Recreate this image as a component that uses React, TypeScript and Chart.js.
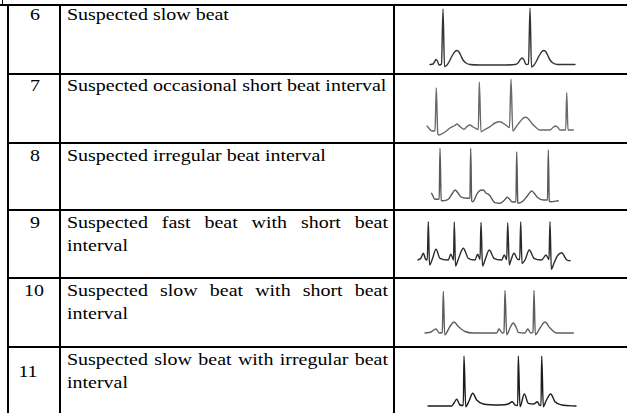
import React, { useEffect, useRef } from "react";
import { Chart, registerables } from "chart.js";

Chart.register(...registerables);

// ---- table content ----
const rowNumbers = ["6", "7", "8", "9", "10", "11"];
const rowLabels = [
  "Suspected slow beat",
  "Suspected occasional short beat interval",
  "Suspected irregular beat interval",
  "Suspected fast beat with short beat interval",
  "Suspected slow beat with short beat interval",
  "Suspected slow beat with irregular beat interval",
];

// ---- ECG traces: [time, amplitude above baseline] ----
const ecgSlowBeat: [number, number][] = [
  [0, -0.5], [3, 0], [5, 3], [6, 4.5], [7.5, 3], [9, -1], [11.5, 0], [13, 55], [14.5, -2.5],
  [17, -1], [19, 2], [22, 8], [25, 12.5], [27, 13.5], [29, 12], [31, 8], [33, 4], [36, 1],
  [40, -0.5], [50, -1], [70, -1], [85, -0.5], [88, 1], [90, 4], [92, 6], [94, 4], [96, -0.5],
  [98.5, 0], [100, 56], [101.5, -3], [104, -1], [106, 2], [109, 8], [112, 12.5], [114, 13.5],
  [116, 12], [118, 8], [120, 4], [123, 1], [128, -0.5], [145, -0.5],
];
const ecgOccasionalShort: [number, number][] = [
  [0, 4], [5, -1], [8, -0.5], [9.3, 42], [10.8, -4], [12, -5], [18, -2], [23, 2], [28, 4.5],
  [30, 6], [33, 3.5], [37, 0.7], [40, 3.5], [43, 5], [46, 3], [49, 1.5], [51.3, 0.5], [52.3, 48],
  [54, -1.7], [57, 0], [63, 3.3], [68, 7], [73, 8.3], [78, 5.5], [82.5, 2.5], [84, 50.7],
  [85.8, -1], [89, 3], [93, 8.3], [98, 12.7], [101, 11.5], [104.7, 6.7], [109, 2.5], [113, 0],
  [123, 0], [126, 2.5], [128.7, 4], [131, 2.5], [133, 0], [138.7, 0], [139.7, 37.3], [141, 0],
  [146.3, 0],
];
const ecgIrregular: [number, number][] = [
  [-0.3, 6.7], [3, 0.7], [7.2, 1], [8, 51.7], [9.2, -0.5], [10.7, -0.7], [16.3, 0.7], [20, 6],
  [23, 10], [26, 7], [28.7, 3.3], [35.3, 1.7], [37.9, 2], [38.7, 51.7], [39.7, -1], [40.7, -1.7],
  [45.3, 6.7], [48.5, 9.8], [51.3, 10], [54, 7], [57.3, 5], [63, -2.7], [68, -3.3], [72, -0.5],
  [75.3, 2.7], [78, 0.5], [79.7, -1.7], [83.9, -2], [84.7, 48.3], [85.8, -2.5], [86.5, -3.3],
  [91.3, -0.7], [96, 5], [99.7, 9], [102, 7], [105.3, 2.7], [111.3, 0], [115.5, 0], [116.3, 50],
  [117.3, -1], [118.7, -1.7], [126.3, -0.7],
];
const ecgFastShort: [number, number][] = [
  [0, 0], [3, 2], [5.3, 6.7], [7.5, 1], [9.3, 0], [10.3, 38.3], [11.5, -5], [14.3, 0.7], [18, 10.7],
  [22, 1.7], [30.3, 0], [32.7, 5.7], [35, 1], [35.5, 0], [36.3, 38], [37.5, -6], [40, 0],
  [45.3, 11.7], [50.3, 1.7], [57, 0], [59.7, 5.7], [62, 0.5], [63, 37.5], [64.5, -6], [67, 0],
  [71.3, 10], [76, 1.7], [83.7, 0], [86.3, 5], [88.7, 0.5], [89.7, 37], [91.3, -5], [93, 0],
  [96, 6.7], [99.7, 0.7], [101.7, 0.5], [102.7, 38], [104, -3.3], [107, 0], [111.3, 10],
  [116, 1.7], [123.7, 0], [128, 5], [131, 0.5], [132, 38.3], [133.3, -9.3], [136, -3], [140, 5],
  [143.7, 7.3], [148.7, 0], [152, -0.7],
];
const ecgSlowShort: [number, number][] = [
  [0, 0], [6, 1], [11, 4], [14.3, 0], [17.3, 0.5], [18.3, 41.5], [19.7, -1.7], [25, 6.5], [29, 11],
  [33.3, 6.5], [40, 1.5], [48.3, 0], [71.7, 0], [74, 4], [77.3, 0], [79, 0.5], [80, 42.5],
  [81.7, -1.7], [85, 5], [88.3, 10], [91, 6], [93.3, 0.7], [100, 0], [102.7, 4], [105.7, 0],
  [108, 0.5], [109, 42.5], [110.3, -1.7], [115, 5], [120, 11], [125, 5], [131.7, 0], [148.3, 0],
];
const ecgSlowIrregular: [number, number][] = [
  [0, 0], [23.7, 0], [26, 3], [28.7, 6.7], [32, 1], [35.3, 0.5], [36, 50], [37.7, -0.7], [41, 5],
  [44.7, 12.7], [48.7, 6], [55.3, 2], [72, 1], [80.3, 2], [84.3, 4.3], [87, 1], [89.7, 0.5],
  [90.3, 50], [92, -0.7], [96.3, 12], [100.3, 2.7], [106, 2], [109.3, 4.3], [111.3, 1], [113, 0.5],
  [113.7, 50], [115.3, -0.7], [118, 5], [122.7, 12], [127, 4.3], [133.7, 1], [148, 0],
];
const ecgTraces = [ecgSlowBeat, ecgOccasionalShort, ecgIrregular, ecgFastShort, ecgSlowShort, ecgSlowIrregular];
const ecgColors = ["#333333", "#6a6a6a", "#595959", "#2a2a2a", "#5e5e5e", "#1c1c1c"];

// ---- layout ----
const W = 627;
const H = 413;
const LINE = 2;
const rowTops = [4, 73, 142, 209, 277, 346];
const colLines = [7, 59, 393];
const traceStartX = [430, 427, 432, 418, 425, 428];
const traceBaseY = [64, 130, 200, 260, 333, 406];
const numCenterX = [34.5, 34.5, 34.5, 34.5, 34, 28];
const numOffsetY = [0, 0, 0, 0, 0, 11.5];
const textOffsetY = [-3, -1, 0, 0, 0, 0];
const FONT = "'Liberation Serif', 'Times New Roman', serif";
const FONT_SIZE = 16.5;
const SCALE_X = 1.21;
const LINE_H = 23;
const TEXT_LEFT = 66.5;
const TEXT_W = 321;

type TraceProps = {
  data: [number, number][];
  color: string;
  left: number;
  top: number;
  width: number;
  height: number;
  xMin: number;
  yMin: number;
  yMax: number;
};

function Trace({ data, color, left, top, width, height, xMin, yMin, yMax }: TraceProps) {
  const ref = useRef<HTMLCanvasElement>(null);
  useEffect(() => {
    const chart = new Chart(ref.current as HTMLCanvasElement, {
      type: "line",
      data: {
        datasets: [
          {
            data: data.map(([x, y]) => ({ x, y })),
            borderColor: color,
            borderWidth: 1.4,
            borderJoinStyle: "round",
            borderCapStyle: "round",
            pointRadius: 0,
            fill: false,
            cubicInterpolationMode: "monotone",
          },
        ],
      },
      options: {
        animation: false,
        responsive: false,
        maintainAspectRatio: false,
        events: [],
        layout: { padding: 0 },
        plugins: { legend: { display: false }, tooltip: { enabled: false } },
        scales: {
          x: { type: "linear", display: false, min: xMin, max: xMin + width },
          y: { type: "linear", display: false, min: yMin, max: yMax },
        },
      },
    });
    return () => chart.destroy();
  }, []);
  return (
    <canvas
      ref={ref}
      width={width}
      height={height}
      style={{ position: "absolute", left, top, width, height }}
    />
  );
}

export default function App() {
  const colRight = colLines[2] + LINE;
  const lines: React.ReactNode[] = [];
  lines.push(<div key="top" style={{ position: "absolute", left: 0, top: rowTops[0], width: W, height: LINE, background: "#000" }} />);
  lines.push(<div key="rem" style={{ position: "absolute", left: 1.5, top: 0, width: 1.2, height: rowTops[0], background: "#000" }} />);
  rowTops.slice(1).forEach((t, i) =>
    lines.push(
      <div key={"r" + i} style={{ position: "absolute", left: colLines[0], top: t, width: W - colLines[0], height: LINE, background: "#000" }} />
    )
  );
  colLines.forEach((x, i) =>
    lines.push(
      <div key={"c" + i} style={{ position: "absolute", left: x, top: rowTops[0], width: LINE, height: H - rowTops[0], background: "#000" }} />
    )
  );

  return (
    <div
      style={{
        position: "fixed",
        left: 0,
        top: 0,
        width: W,
        height: H,
        background: "#fff",
        overflow: "hidden",
        fontFamily: FONT,
        color: "#000",
      }}
    >
      {rowNumbers.map((n, i) => {
        const top = rowTops[i] + LINE;
        const bottom = i + 1 < rowTops.length ? rowTops[i + 1] : H;
        const canvasLeft = colRight;
        const canvasW = W - canvasLeft;
        const canvasH = bottom - top;
        return (
          <React.Fragment key={n}>
            <div
              style={{
                position: "absolute",
                left: numCenterX[i] - 20,
                width: 40,
                top: top + textOffsetY[i] + numOffsetY[i],
                textAlign: "center",
                fontSize: FONT_SIZE,
                lineHeight: LINE_H + "px",
                transform: `scaleX(${SCALE_X})`,
              }}
            >
              {n}
            </div>
            <div
              style={{
                position: "absolute",
                left: TEXT_LEFT,
                top: top + textOffsetY[i],
                width: TEXT_W / SCALE_X,
                textAlign: "justify",
                fontSize: FONT_SIZE,
                lineHeight: LINE_H + "px",
                transform: `scaleX(${SCALE_X})`,
                transformOrigin: "left top",
              }}
            >
              {rowLabels[i]}
            </div>
            <Trace
              data={ecgTraces[i]}
              color={ecgColors[i]}
              left={canvasLeft}
              top={top}
              width={canvasW}
              height={canvasH}
              xMin={canvasLeft - traceStartX[i]}
              yMin={traceBaseY[i] - bottom}
              yMax={traceBaseY[i] - top}
            />
          </React.Fragment>
        );
      })}
      {lines}
    </div>
  );
}
